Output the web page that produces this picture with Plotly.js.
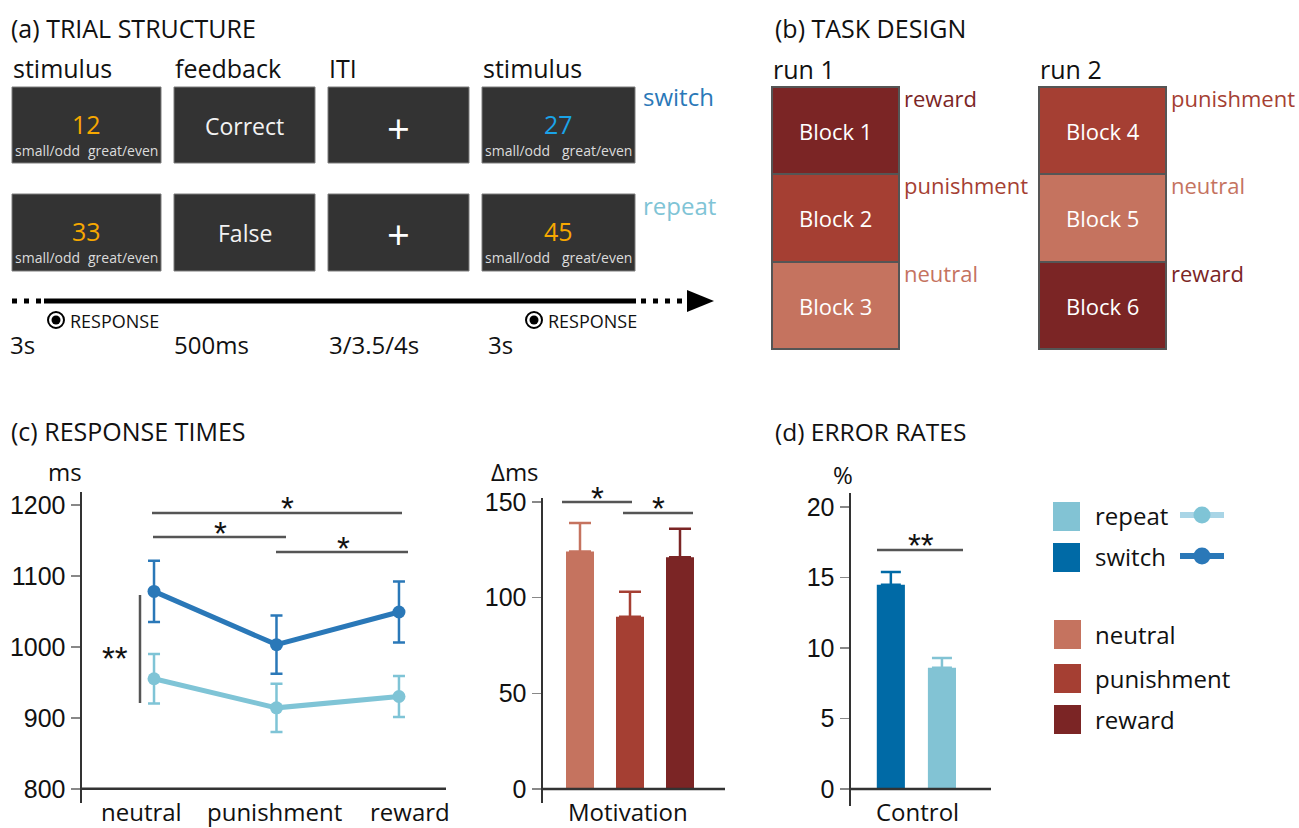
<!DOCTYPE html>
<html><head><meta charset="utf-8">
<script src="https://cdn.plot.ly/plotly-3.0.1.min.js"></script>
<style>html,body{margin:0;padding:0;background:#fff}#chart{width:1299px;height:828px}</style>
</head><body><div id="chart"></div>
<script>
// ---------------- DATA ----------------
const conditions = ['neutral', 'punishment', 'reward'];
const rtSwitch = [1078, 1003, 1049];
const rtSwitchErr = [43, 41, 43];
const rtRepeat = [955, 914, 930];
const rtRepeatErr = [35, 34, 29];
const switchCost = [124, 90, 121];
const switchCostErr = [15, 13, 15];
const trialTypes = ['switch', 'repeat'];
const errorRate = [14.5, 8.6];
const errorRateErr = [0.9, 0.7];
const rtTicks = [800, 900, 1000, 1100, 1200];
const costTicks = [0, 50, 100, 150];
const errTicks = [0, 5, 10, 15, 20];
const run1 = ['reward', 'punishment', 'neutral'];
const run2 = ['punishment', 'neutral', 'reward'];
const runNames = ['run 1', 'run 2'];
const phases = ['stimulus', 'feedback', 'ITI', 'stimulus'];
const durations = ['3s', '500ms', '3/3.5/4s', '3s'];
const switchTrial = ['12', 'Correct', '+', '27'];
const repeatTrial = ['33', 'False', '+', '45'];
const legendTypes = ['repeat', 'switch'];

// ---------------- STYLE ----------------
const W = 1299, H = 828;
const X = p => p / W;
const Y = p => 1 - p / H;
const SANS = 'Open Sans, Noto Sans, sans-serif';
const ARIAL = 'Liberation Sans, Arial, sans-serif';
const condColor = {neutral: '#c5735f', punishment: '#a53f33', reward: '#7b2525'};
const lineColor = {switch: '#2a78b8', repeat: '#7fc4d6'};
const barColor = {switch: '#006aa6', repeat: '#82c3d4'};
const legendLine = {switch: '#2a78b8', repeat: '#a9d5e6'};

const annotations = [];
const shapes = [];
function txt(text, px, py, size, color, xa, family, extra) {
  annotations.push(Object.assign({text: text, x: X(px), y: Y(py), xref: 'paper', yref: 'paper', showarrow: false,
    xanchor: xa || 'center', yanchor: 'middle',
    font: {family: family || SANS, size: size || 24, color: color || '#111'}}, extra || {}));
}
function rect(x0, y0, x1, y1, fill, lc, lw) {
  shapes.push({type: 'rect', xref: 'paper', yref: 'paper', x0: X(x0), x1: X(x1), y0: Y(y1), y1: Y(y0),
    fillcolor: fill, line: {color: lc || fill, width: lw === undefined ? 1 : lw}});
}
function seg(x0, y0, x1, y1, color, w, dash) {
  shapes.push({type: 'line', xref: 'paper', yref: 'paper', x0: X(x0), x1: X(x1), y0: Y(y0), y1: Y(y1),
    line: {color: color, width: w, dash: dash || 'solid'}});
}
function circ(cx, cy, r, fill, lc, lw) {
  shapes.push({type: 'circle', xref: 'paper', yref: 'paper', x0: X(cx - r), x1: X(cx + r), y0: Y(cy + r), y1: Y(cy - r),
    fillcolor: fill, line: {color: lc || fill, width: lw || 0}});
}
function star(s, px, py) { txt(s, px, py + 6, 33, '#111', 'center', ARIAL); }

// ---------------- (a) TRIAL STRUCTURE ----------------
txt('(a) TRIAL STRUCTURE', 9, 28, 25, '#111', 'left');
const colX = [[12, 161], [174, 315], [328, 469], [482, 635]];
const rowY = [[87, 163], [194, 271]];
const numColors = [['#f7a800', '#1aa3e8'], ['#f7a800', '#f7a800']];
phases.forEach((p, c) => txt(p, colX[c][0] - 1, 68, 25, '#111', 'left'));
[switchTrial, repeatTrial].forEach((row, r) => {
  row.forEach((item, c) => {
    const [x0, x1] = colX[c];
    const [y0, y1] = rowY[r];
    rect(x0, y0, x1, y1, '#333333', '#7d7d7d', 1);
    const cx = (x0 + x1) / 2;
    if (c === 0 || c === 3) {
      txt(item, cx, y0 + 37, 25, numColors[r][c === 0 ? 0 : 1]);
      txt('small/odd', x0 + 1, y0 + 63, 14, '#dcdcdc', 'left');
      txt('great/even', x1 - 1, y0 + 63, 14, '#dcdcdc', 'right');
    } else if (c === 2) {
      txt(item, cx, y0 + 41, 40, '#ffffff');
    } else {
      txt(item, cx, y0 + 39, 23, '#f2f2f2');
    }
  });
});
txt('switch', 641, 97, 24, lineColor.switch, 'left');
txt('repeat', 641, 205, 24, lineColor.repeat, 'left');
// timeline
seg(44, 301, 636, 301, '#000', 5);
seg(12, 301, 42, 301, '#000', 5, '5px,7px');
seg(641, 301, 684, 301, '#000', 5, '5px,7px');
shapes.push({type: 'path', xref: 'paper', yref: 'paper',
  path: `M ${X(687)},${Y(290)} L ${X(714)},${Y(301)} L ${X(687)},${Y(312)} Z`, fillcolor: '#000', line: {width: 0}});
[56, 534].forEach(cx => {
  circ(cx, 320, 8, '#fff', '#000', 2);
  circ(cx, 320, 4.5, '#000');
});
txt('RESPONSE', 68, 321, 18, '#111', 'left');
txt('RESPONSE', 546, 321, 18, '#111', 'left');
const durX = [8, 172, 327, 486];
durations.forEach((d, i) => txt(d, durX[i], 344, 24, '#111', 'left'));

// ---------------- (b) TASK DESIGN ----------------
txt('(b) TASK DESIGN', 773, 28, 25, '#111', 'left');
const runX = [[772, 899], [1039, 1166]];
const blockY = [[87, 174], [174, 262], [262, 349]];
[run1, run2].forEach((run, r) => {
  txt(runNames[r], runX[r][0] - 1, 69, 25, '#111', 'left');
  run.forEach((cond, b) => {
    const [x0, x1] = runX[r];
    const [y0, y1] = blockY[b];
    rect(x0, y0, x1, y1, condColor[cond], '#555555', 2);
    txt('Block ' + (r * 3 + b + 1), (x0 + x1) / 2, (y0 + y1) / 2, 22, '#ffffff');
    txt(cond, x1 + 3, y0 + 11, 22, condColor[cond], 'left');
  });
});

// ---------------- (c) RESPONSE TIMES ----------------
txt('(c) RESPONSE TIMES', 9, 431, 25, '#111', 'left');
txt('ms', 65, 471, 24);
const condLabelX = [141, 274, 410];
conditions.forEach((c, i) => txt(c, condLabelX[i], 811, 24, '#111'));
const sigGray = '#555555';
seg(152, 513, 402, 513, sigGray, 2.5); star('*', 287, 503);
seg(153, 537, 286, 537, sigGray, 2.5); star('*', 220, 527);
seg(276, 552, 408, 552, sigGray, 2.5); star('*', 343, 542);
seg(140, 595, 140, 703, sigGray, 2.5); star('**', 115, 652);

txt('Δms', 515, 471, 24);
txt('Motivation', 628, 811, 24);
seg(562, 502, 632, 502, sigGray, 2.5); star('*', 597, 492);
seg(623, 513, 693, 513, sigGray, 2.5); star('*', 658, 503);

// ---------------- (d) ERROR RATES ----------------
txt('(d) ERROR RATES', 773, 431, 24.5, '#111', 'left');
txt('%', 843, 474, 24);
txt('Control', 917, 811, 24);
seg(877, 550, 963, 550, sigGray, 2.5); star('**', 921, 539);

// legend
const legTypeY = [516, 557];
legendTypes.forEach((t, i) => {
  const cy = legTypeY[i];
  rect(1053, cy - 14, 1080, cy + 15, barColor[t], barColor[t], 0);
  txt(t, 1093, cy - 1, 24, '#111', 'left');
  seg(1180, cy - 1, 1224, cy - 1, legendLine[t], 6);
  circ(1202, cy - 1, 8.5, lineColor[t]);
});
const legCondY = [634, 678, 719];
conditions.forEach((c, i) => {
  const cy = legCondY[i];
  rect(1054, cy - 14, 1081, cy + 15, condColor[c], condColor[c], 0);
  txt(c, 1093, cy, 24, '#111', 'left');
});

// ---------------- TRACES ----------------
const traces = [];
['repeat', 'switch'].forEach(t => {
  traces.push({type: 'scatter', mode: 'lines+markers', x: conditions,
    y: t === 'switch' ? rtSwitch : rtRepeat, xaxis: 'x', yaxis: 'y',
    line: {color: lineColor[t], width: 5}, marker: {color: lineColor[t], size: 13},
    error_y: {type: 'data', array: t === 'switch' ? rtSwitchErr : rtRepeatErr, color: lineColor[t], thickness: 2.5, width: 6},
    hoverinfo: 'skip', showlegend: false});
});
conditions.forEach((c, i) => {
  traces.push({type: 'bar', x: [c], y: [switchCost[i]], xaxis: 'x2', yaxis: 'y2', width: 0.56,
    marker: {color: condColor[c], line: {width: 0}},
    error_y: {type: 'data', symmetric: false, array: [switchCostErr[i]], arrayminus: [0], color: condColor[c], thickness: 2.5, width: 11},
    hoverinfo: 'skip', showlegend: false});
});
trialTypes.forEach((t, i) => {
  traces.push({type: 'bar', x: [t], y: [errorRate[i]], xaxis: 'x3', yaxis: 'y3', width: 0.55,
    marker: {color: barColor[t], line: {width: 0}},
    error_y: {type: 'data', symmetric: false, array: [errorRateErr[i]], arrayminus: [0], color: barColor[t], thickness: 2.5, width: 10},
    hoverinfo: 'skip', showlegend: false});
});

// x-axis baselines
shapes.push({type: 'line', xref: 'x domain', yref: 'y', x0: 0, x1: 1, y0: 800, y1: 800, line: {color: '#333', width: 2.5}});
shapes.push({type: 'line', xref: 'x2 domain', yref: 'y2', x0: 0, x1: 1, y0: 0, y1: 0, line: {color: '#333', width: 2.5}});
shapes.push({type: 'line', xref: 'x3 domain', yref: 'y3', x0: 0, x1: 1, y0: 0, y1: 0, line: {color: '#333', width: 2.5}});

const xCommon = {showgrid: false, zeroline: false, fixedrange: true, type: 'category', showline: false, ticks: '', showticklabels: false};
const yCommon = {showgrid: false, zeroline: false, fixedrange: true, ticks: 'outside', ticklen: 9, tickwidth: 1.5,
  tickcolor: '#888', showline: true, linecolor: '#333', linewidth: 2.5,
  tickfont: {family: ARIAL, size: 25, color: '#111'}};

const layout = {
  width: W, height: H, margin: {l: 0, r: 0, t: 0, b: 0},
  paper_bgcolor: '#fff', plot_bgcolor: 'rgba(0,0,0,0)', showlegend: false, barmode: 'overlay',
  xaxis: Object.assign({}, xCommon, {domain: [X(82), X(446)], anchor: 'y', range: [-0.588, 2.384]}),
  yaxis: Object.assign({}, yCommon, {domain: [Y(803), Y(492)], anchor: 'x', range: [780, 1218], tickvals: rtTicks}),
  xaxis2: Object.assign({}, xCommon, {domain: [X(543), X(725)], anchor: 'y2', range: [-0.74, 2.9]}),
  yaxis2: Object.assign({}, yCommon, {domain: [Y(803), Y(498)], anchor: 'x2', range: [-7.3, 152], tickvals: costTicks}),
  xaxis3: Object.assign({}, xCommon, {domain: [X(851), X(991)], anchor: 'y3', range: [-0.78, 1.96]}),
  yaxis3: Object.assign({}, yCommon, {domain: [Y(806), Y(493)], anchor: 'x3', range: [-1.2, 21], tickvals: errTicks}),
  shapes: shapes, annotations: annotations
};
Plotly.newPlot('chart', traces, layout, {displayModeBar: false, staticPlot: true});
</script></body></html>
